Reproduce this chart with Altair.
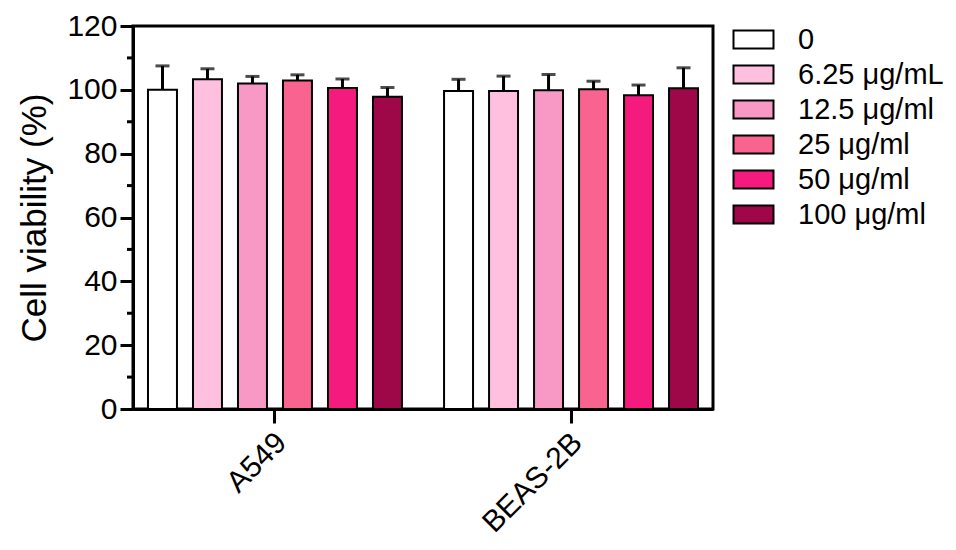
import altair as alt
import pandas as pd

cells = ["A549", "BEAS-2B"]
doses = ["0", "6.25 μg/mL", "12.5 μg/ml", "25 μg/ml", "50 μg/ml", "100 μg/ml"]
colors = ["#FFFFFF", "#FFBFDE", "#F899C5", "#F8638F", "#F41A7E", "#9E0748"]

a549_mean = [100.0, 103.3, 102.0, 102.9, 100.6, 97.8]
a549_sd = [7.5, 3.3, 2.2, 1.8, 2.8, 2.9]
beas_mean = [99.6, 99.6, 99.9, 100.2, 98.3, 100.5]
beas_sd = [3.7, 4.7, 4.9, 2.5, 3.2, 6.4]

minor_ticks = [10, 30, 50, 70, 90, 110]

rows = []
for cell, means, sds in [("A549", a549_mean, a549_sd), ("BEAS-2B", beas_mean, beas_sd)]:
    for d, m, s in zip(doses, means, sds):
        rows.append({"cell": cell, "dose": d, "mean": m, "upper": m + s})
df = pd.DataFrame(rows)
minor_df = pd.DataFrame({"v": minor_ticks})

FONT = "Liberation Sans"

x = alt.X("cell:N", sort=cells, title=None,
          scale=alt.Scale(paddingInner=0.041, paddingOuter=0),
          axis=alt.Axis(labelAngle=-45, labelAlign="right", labelBaseline="top",
                        labelFontSize=30, labelFont=FONT, labelColor="black",
                        labelPadding=4, labelOffset=-4, tickSize=14, tickWidth=3,
                        tickColor="black", domainWidth=3, domainColor="black"))
xo = alt.XOffset("dose:N", sort=doses,
                 scale=alt.Scale(paddingInner=0.356, paddingOuter=0.333))

yscale = alt.Scale(domain=[0, 120], nice=False, zero=True)

bars = alt.Chart(df).mark_bar(stroke="black", strokeWidth=2).encode(
    x=x,
    xOffset=xo,
    y=alt.Y("mean:Q", stack=None, scale=yscale, title="Cell viability (%)",
            axis=alt.Axis(values=[0, 20, 40, 60, 80, 100, 120], grid=False,
                          labelFontSize=30, labelFont=FONT, labelColor="black",
                          labelPadding=3, tickSize=13, tickWidth=3, tickColor="black",
                          domainWidth=3, domainColor="black",
                          titleFontSize=35, titleFont=FONT, titleFontWeight="normal",
                          titleColor="black", titlePadding=14)),
    color=alt.Color("dose:N", sort=doses,
                    scale=alt.Scale(domain=doses, range=colors),
                    legend=alt.Legend(title=None, orient="none", legendX=601, legendY=-6,
                                      padding=0, rowPadding=0,
                                      symbolType="M-1.081,-0.486L1.081,-0.486L1.081,0.486L-1.081,0.486Z",
                                      symbolSize=1369, symbolStrokeColor="black",
                                      symbolStrokeWidth=2, symbolOpacity=1,
                                      labelFontSize=29, labelFont=FONT, labelColor="black",
                                      labelOffset=25, labelLimit=400)),
)

stems = alt.Chart(df).mark_rule(color="black", strokeWidth=3).encode(
    x=alt.X("cell:N", sort=cells),
    xOffset=xo,
    y=alt.Y("mean:Q", scale=yscale),
    y2="upper:Q",
)

caps = alt.Chart(df).mark_tick(color="black", orient="horizontal", size=14, thickness=3).encode(
    x=alt.X("cell:N", sort=cells),
    xOffset=xo,
    y=alt.Y("upper:Q", scale=yscale),
)

minor = alt.Chart(minor_df).mark_rule(color="black", strokeWidth=3).encode(
    y=alt.Y("v:Q", scale=yscale),
    x=alt.value(-6),
    x2=alt.value(0),
)

chart = alt.layer(bars, stems, caps, minor).properties(
    width=580, height=383,
    autosize=alt.AutoSizeParams(type="none"),
    padding={"left": 125, "top": 18, "right": 235, "bottom": 133},
).configure_view(stroke="black", strokeWidth=3).configure_axis(grid=False)

chart.save("out.html", embed_options={"renderer": "svg", "actions": False})
